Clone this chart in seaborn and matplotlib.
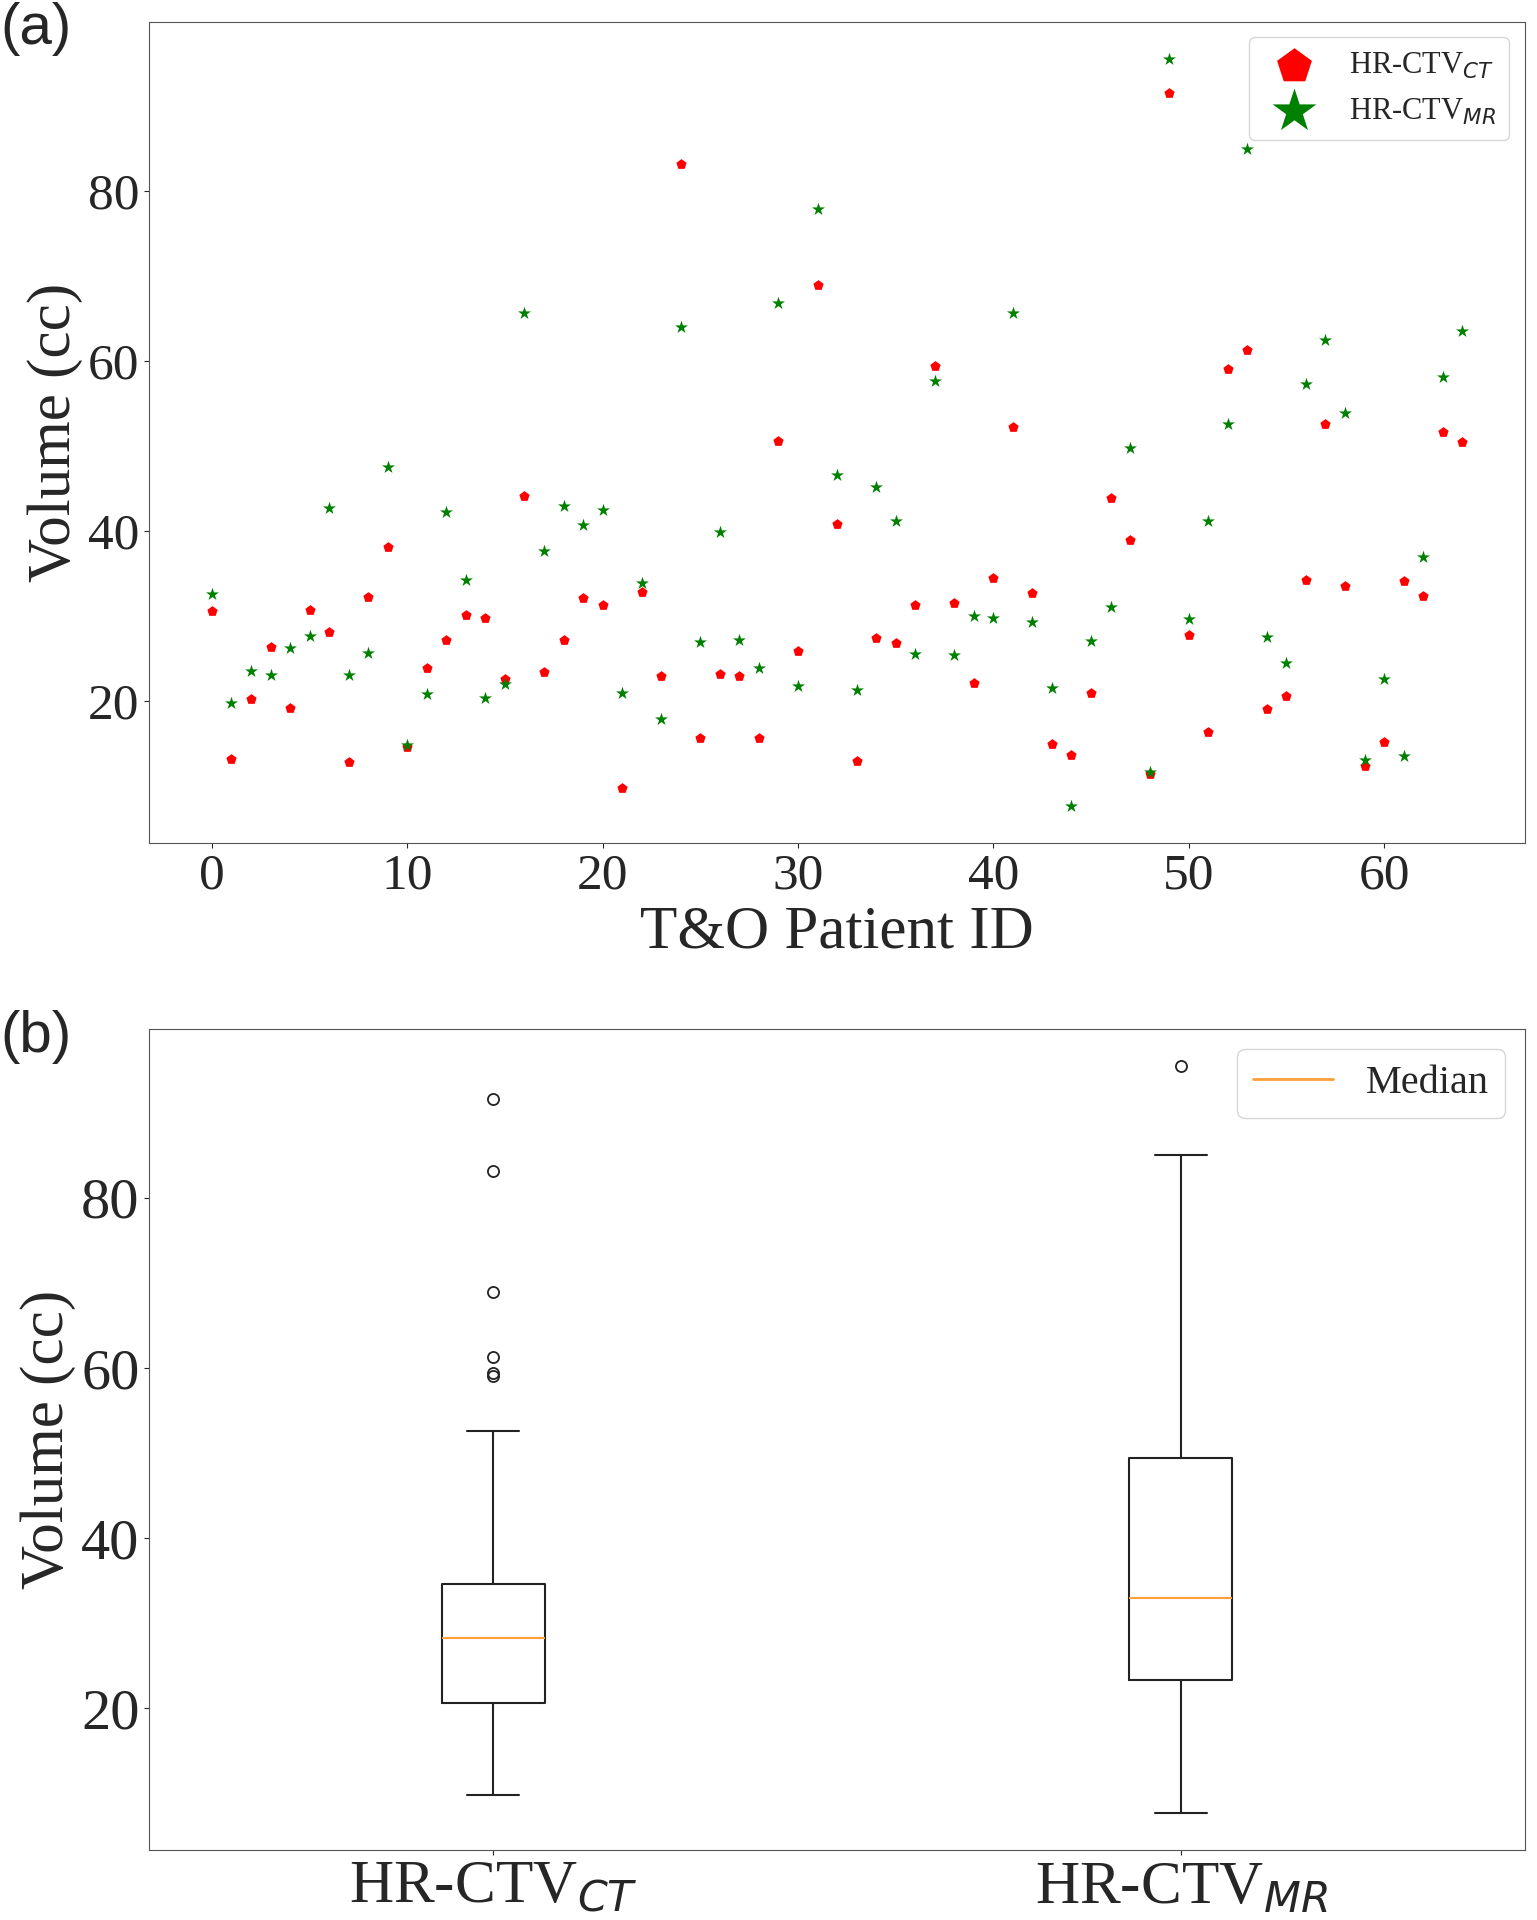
import numpy as np
import pandas as pd
import matplotlib
matplotlib.use('Agg')
import matplotlib.pyplot as plt
from matplotlib.lines import Line2D
import seaborn as sns

# %%
# (a) per-patient volumes (cc), patient 0..64
patient_id = list(range(65))

hr_ctv_ct = [30.6, 13.2, 20.2, 26.3, 19.2, 30.7, 28.1, 12.8, 32.2, 38.1,
             14.6, 23.9, 27.2, 30.1, 29.8, 22.6, 44.1, 23.4, 27.2, 32.1,
             31.3, 9.8, 32.8, 22.9, 83.2, 15.7, 23.2, 23.0, 15.6, 50.6,
             25.9, 69.0, 40.8, 13.0, 27.4, 26.8, 31.3, 59.4, 31.5, 22.1,
             34.5, 52.3, 32.7, 14.9, 13.7, 21.0, 43.9, 39.0, 11.4, 91.6,
             27.8, 16.3, 59.1, 61.3, 19.1, 20.6, 34.3, 52.6, 33.5, 12.4,
             15.2, 34.1, 32.4, 51.7, 50.5]

hr_ctv_mr = [32.6, 19.8, 23.5, 23.1, 26.2, 27.7, 42.7, 23.1, 25.7, 47.5,
             14.8, 20.8, 42.3, 34.3, 20.3, 22.0, 65.6, 37.7, 42.9, 40.7,
             42.5, 20.9, 33.9, 17.9, 64.0, 27.0, 39.9, 27.2, 23.9, 66.8,
             21.8, 77.9, 46.6, 21.3, 45.2, 41.2, 25.5, 57.7, 25.4, 30.0,
             29.8, 65.6, 29.3, 21.5, 7.7, 27.1, 31.1, 49.8, 11.6, 95.5,
             29.6, 41.2, 52.6, 85.0, 27.5, 24.5, 57.3, 62.5, 53.9, 13.1,
             22.6, 13.5, 37.0, 58.1, 63.5]

# (b) box summaries as drawn in panel (b) (cc)
box_labels = ['HR-CTV$_{CT}$', 'HR-CTV$_{MR}$']
box_whislo = [9.8, 7.7]
box_q1 = [20.6, 23.3]
box_med = [28.3, 33.0]
box_q3 = [34.6, 49.4]
box_whishi = [52.6, 85.0]
box_fliers = [[59.1, 59.4, 61.3, 69.0, 83.2, 91.6], [95.5]]

# %%
sns.set_style('ticks')
plt.rcParams['font.family'] = ['Liberation Serif', 'DejaVu Serif']
plt.rcParams['mathtext.fontset'] = 'dejavusans'

fig = plt.figure(figsize=(15.37, 19.2), dpi=100)
ax1 = fig.add_axes([0.0972, 0.561, 0.8948, 0.4275])
ax2 = fig.add_axes([0.0972, 0.0362, 0.8948, 0.428])

## (a) scatter
sns.scatterplot(x=patient_id, y=hr_ctv_ct, marker='p', color='red', s=60,
                linewidth=0, label=box_labels[0], ax=ax1)
sns.scatterplot(x=patient_id, y=hr_ctv_mr, marker='*', color='green', s=95,
                linewidth=0, label=box_labels[1], ax=ax1)

ax1.set_xlabel('T&O Patient ID', fontsize=44)
ax1.set_ylabel('Volume (cc)', fontsize=44)
ax1.set_yticks([20, 40, 60, 80])
ax1.tick_params(axis='both', labelsize=37)
ax1.legend(loc='upper right', fontsize=22, markerscale=3.4, borderpad=0.45)

## (b) box plot
stats = []
for i in range(len(box_labels)):
    stats.append(dict(label=box_labels[i], whislo=box_whislo[i], q1=box_q1[i],
                      med=box_med[i], q3=box_q3[i], whishi=box_whishi[i],
                      fliers=box_fliers[i]))

ax2.bxp(stats, positions=[1, 2], widths=0.15,
        boxprops=dict(color='#222222', linewidth=1.5),
        whiskerprops=dict(color='#222222', linewidth=1.5),
        capprops=dict(color='#222222', linewidth=1.5),
        medianprops=dict(color='#ff9f3a', linewidth=1.5),
        flierprops=dict(marker='o', markerfacecolor='none', markeredgecolor='#222222',
                        markersize=8, markeredgewidth=1.3))
ax2.set_xlim(0.5, 2.5)

ax2.set_ylabel('Volume (cc)', fontsize=44)
ax2.set_yticks([20, 40, 60, 80])
ax2.tick_params(axis='y', labelsize=42)
ax2.tick_params(axis='x', labelsize=44)
ax2.legend(handles=[Line2D([0], [0], color='#ff9f3a', lw=2)], labels=['Median'],
           loc='upper right', fontsize=29)

for ax in [ax1, ax2]:
    for s in ax.spines.values():
        s.set_color('#555555')

fig.text(0.0, 0.999, '(a)', fontsize=42, family='Liberation Sans', va='top', ha='left')
fig.text(0.0, 0.474, '(b)', fontsize=42, family='Liberation Sans', va='top', ha='left')

plt.savefig('out.png', dpi=100)
